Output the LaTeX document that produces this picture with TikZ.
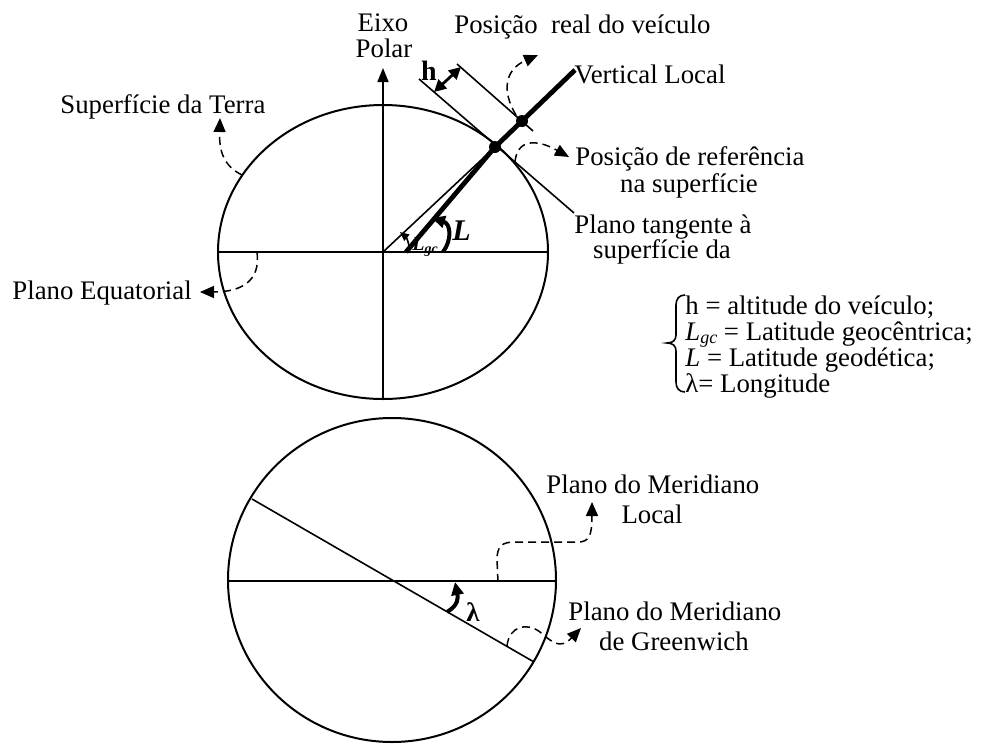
\documentclass[tikz,border=0pt]{standalone}
\usepackage{fontspec}
\setmainfont{Liberation Serif}
\usetikzlibrary{arrows.meta}
\newcommand\legendfontsetup{\fontsize{13.4}{13.1}\selectfont\lineskiplimit=-20pt\relax\lineskip=0pt\relax}
\newcommand\gcsub{\raisebox{-1.5pt}{\fontsize{9}{10}\selectfont\itshape gc}}
\begin{document}
\begin{tikzpicture}[x=0.5pt,y=-0.5pt,
  lbl/.style={inner sep=0pt, font=\fontsize{13.4}{15}\selectfont},
  shape line/.style={line width=1pt},
  thin line/.style={line width=0.8pt},
  vert line/.style={line width=2.4pt, line join=round},
  leader/.style={line width=0.75pt, dash pattern=on 4pt off 2.5pt, -{Triangle[length=7pt,width=6pt]}},
  tri/.style={-{Triangle[length=7pt,width=5.5pt]}},
  dot/.style={fill=black}]
\useasboundingbox (0,0) rectangle (992,745);

% ---------------- upper figure ----------------
\coordinate (O) at (383,252);
\coordinate (F) at (406,252);
\coordinate (P) at (495,147);
\coordinate (Q) at (522,121);
\coordinate (V) at (575,70);
\coordinate (PB) at (383,398);
\coordinate (PT) at (383,68);
\coordinate (EL) at (218,252);
\coordinate (ER) at (548,252);
\coordinate (T1) at (419,79);
\coordinate (T2) at (574,213);
\coordinate (U1) at (457,64);
\coordinate (U2) at (533,131);

\draw[shape line] (O) ellipse [x radius=165, y radius=147];
\draw[thin line, tri] (PB) -- (PT);
\draw[thin line] (EL) -- (ER);
\draw[thin line] (O) -- (P);
\draw[vert line] (F) -- (P) -- (V);
\draw[thin line] (T1) -- (T2);
\draw[thin line] (U1) -- (U2);
\fill[dot] (P) circle (6);
\fill[dot] (Q) circle (6);

% h arrow
\coordinate (H1) at (434,92);
\coordinate (H2) at (461,67);
\draw[line width=1.4pt, {Triangle[length=6pt,width=6pt]}-{Triangle[length=6pt,width=6pt]}] (H1) -- (H2);
\node[lbl, anchor=base, font=\fontsize{14}{16}\selectfont\bfseries] (hl) at (429,80) {h};

% angle arcs
\coordinate (A1) at (409,252);
\coordinate (A2) at (400,232);
\draw[thin line, -{Triangle[length=4.5pt,width=4pt]}] (A1) .. controls (410,244) and (406,237) .. (A2);
\coordinate (B1) at (443,252);
\coordinate (B2) at (432,218);
\draw[line width=2pt, -{Triangle[length=6.5pt,width=6pt]}] (B1) .. controls (452,240) and (451,224) .. (B2);
\node[inner sep=0pt, anchor=base west, font=\fontsize{15}{17}\selectfont\bfseries\itshape] (Lbig) at (452,240) {L};
\node[inner sep=0pt, anchor=base west, font=\fontsize{10}{12}\selectfont\bfseries\itshape] (Lgc) at (412,250) {L\textsubscript{gc}};

% labels
\node[lbl, anchor=base] (eixo) at (383,31) {Eixo};
\node[lbl, anchor=base] (polar) at (384,57) {Polar};
\node[lbl, anchor=base west] (real) at (454,33) {Posição\ \ real do veículo};
\node[lbl, anchor=base west] (vloc) at (574,83) {Vertical Local};
\node[lbl, anchor=base west] (sup) at (60,113) {Superfície da Terra};
\node[lbl, anchor=base west] (equ) at (12,299) {Plano Equatorial};
\node[lbl, anchor=base west] (ref1) at (575,165) {Posição de referência};
\node[lbl, anchor=base] (ref2) at (689,192) {na superfície};
\node[lbl, anchor=base] (tan1) at (663,233) {Plano tangente à};
\node[lbl, anchor=base] (tan2) at (662,258) {superfície da};

% leaders
\coordinate (s1) at (242,175);
\coordinate (s2) at (220,118);
\draw[leader] (s1) .. controls (224,166) and (219,152) .. (s2);
\coordinate (e1) at (257,252);
\coordinate (e2) at (200,292);
\draw[leader] (e1) .. controls (261,282) and (240,292) .. (e2);
\coordinate (r1) at (516,115);
\coordinate (r2) at (538,55);
\draw[leader] (r1) .. controls (502,92) and (504,70) .. (r2);
\coordinate (p1) at (515,162);
\coordinate (p2) at (569,157);
\draw[leader] (p1) .. controls (517,140) and (535,138) .. (p2);

% legend
\draw[line width=0.8pt] (685,295) .. controls (679,295) and (676,299) .. (676,305) -- (676,335)
  .. controls (676,340) and (673,343) .. (667,343) .. controls (673,343) and (676,346) .. (676,351)
  -- (676,382) .. controls (676,388) and (679,392) .. (685,392);
\node[inner sep=0pt, anchor=north west, align=left, font=\legendfontsetup] (legend) at (685,295)
  {h = altitude do veículo;\\
   \textit{L}\gcsub\ = Latitude geocêntrica;\\
   \textit{L} = Latitude geodética;\\
   λ= Longitude};

% ---------------- lower figure ----------------
\coordinate (C) at (392,580);
\coordinate (HL) at (228,581);
\coordinate (HR) at (556,581);
\coordinate (D1) at (252,499);
\coordinate (D2) at (534,662);
\draw[shape line] (C) ellipse [x radius=164, y radius=162];
\draw[thin line] (HL) -- (HR);
\draw[thin line] (D1) -- (D2);

\coordinate (l1) at (447,612);
\coordinate (l2) at (455,582);
\draw[line width=2pt, -{Triangle[length=6.5pt,width=6pt]}] (l1) .. controls (459,605) and (458,597) .. (l2);
\node[inner sep=0pt, anchor=base, font=\fontsize{13.4}{15}\selectfont\bfseries] (lam) at (473,621) {λ};

\node[lbl, anchor=base west] (ml1) at (546,493) {Plano do Meridiano};
\node[lbl, anchor=base] (ml2) at (652,523) {Local};
\node[lbl, anchor=base west] (mg1) at (568,620) {Plano do Meridiano};
\node[lbl, anchor=base] (mg2) at (674,650) {de Greenwich};

\coordinate (m1) at (498,582);
\coordinate (m2) at (592,502);
\draw[leader] (m1) -- (497,560) .. controls (497,546) and (502,542) .. (515,542) -- (578,542)
  .. controls (589,542) and (592,536) .. (m2);
\coordinate (g1) at (507,646);
\coordinate (g2) at (581,628);
\draw[leader] (g1) .. controls (509,626) and (527,622) .. (540,632)
  .. controls (552,642) and (560,650) .. (g2);
\end{tikzpicture}
\end{document}
